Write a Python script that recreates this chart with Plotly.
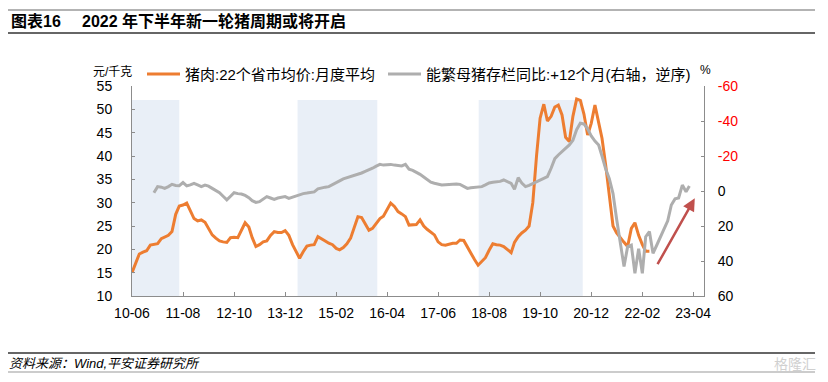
import pandas as pd
import plotly.graph_objects as go

# ---------------- data ----------------
pork_start = "2010-06-01"
pork = [15.0, 17.2, 19.0, 19.4, 19.7, 20.9, 21.1, 21.2, 22.3, 22.6, 23.0, 23.8,
        27.5, 29.3, 29.5, 29.9, 28.4, 26.6, 26.1, 26.3, 25.8, 24.5, 23.1, 22.4,
        21.8, 21.6, 21.5, 22.5, 22.6, 22.5, 24.0, 25.7, 24.8, 22.5, 20.6, 21.0,
        21.6, 21.8, 23.0, 23.8, 23.6, 23.6, 24.0, 23.0, 21.0, 19.5, 18.1, 19.5,
        20.7, 20.9, 21.0, 22.7, 22.3, 21.8, 21.3, 21.0, 20.2, 19.9, 20.4, 21.2,
        22.4, 24.8, 27.0, 26.8, 25.5, 24.1, 24.5, 25.5, 26.6, 27.1, 28.5, 29.9,
        29.2, 28.1, 27.6, 27.0, 25.2, 25.2, 25.3, 26.3, 25.0, 24.3, 23.6, 23.1,
        21.6, 21.0, 20.9, 21.1, 21.3, 21.3, 22.0, 21.9, 20.5, 19.0, 17.8, 16.6,
        17.4, 18.2, 19.8, 21.2, 21.0, 20.9, 20.6, 20.0, 19.3, 21.5, 22.7, 23.5,
        24.1, 25.0, 30.0, 40.0, 48.1, 51.1, 47.5, 48.5, 50.5, 50.9, 48.8, 44.0,
        43.1, 48.5, 52.2, 51.9, 49.0, 44.5, 47.0, 50.9, 47.0, 43.8, 38.0, 31.0,
        25.0, 23.5, 22.4, 21.5, 20.6, 24.5, 25.7, 23.0, 21.0, 19.6, 19.6]

sow_start = "2010-12-01"
sow = [1.0, -2.5, -2.2, -1.5, -2.5, -3.8, -3.2, -3.0, -4.8, -2.9, -3.5, -4.4,
       -3.5, -2.5, -3.4, -2.8, -1.5, -0.5, 1.0, 3.0, 5.1, 3.0, 1.0, 1.5,
       1.7, 2.5, 3.8, 5.5, 6.5, 6.1, 4.5, 3.2, 4.0, 4.8, 4.0, 3.5,
       3.2, 4.2, 3.5, 2.8, 2.0, 1.5, 1.2, 1.0, 0.5, -1.2, -1.8, -2.2,
       -2.5, -3.5, -4.5, -5.8, -6.9, -7.5, -8.2, -9.0, -9.5, -10.3, -11.2, -12.0,
       -13.0, -14.2, -15.2, -14.8, -15.0, -15.2, -14.8, -14.5, -14.3, -15.2, -12.5, -11.8,
       -10.8, -9.5, -8.0, -6.5, -5.0, -4.4, -3.8, -3.4, -3.6, -3.8, -4.0, -4.0,
       -3.8, -2.5, -1.5, -1.8, -2.1, -2.3, -2.5, -3.5, -4.6, -5.0, -5.3, -5.5,
       -6.3, -5.5, -4.4, -1.0, -7.6, -4.5, -2.5, -3.2, -4.2, -5.0, -5.9, -7.0,
       -8.2, -13.0, -18.5, -20.6, -22.5, -24.0, -26.3, -29.0, -35.0, -38.7, -38.3, -35.5,
       -31.5, -28.5, -26.3, -20.0, -12.5, -7.0, 1.5, 16.0, 30.0, 43.2, 31.8, 30.9,
       47.0, 33.0, 47.0, 26.1, 23.2, 35.6, 31.0, 26.1, 22.0, 17.0, 8.0, 4.5,
       4.0, -3.4, 0.4, -2.9]

tick_dates = ["2010-06-01", "2011-08-01", "2012-10-01", "2013-12-01", "2015-02-01", "2016-04-01",
              "2017-06-01", "2018-08-01", "2019-10-01", "2020-12-01", "2022-02-01", "2023-04-01"]
tick_labels = ["10-06", "11-08", "12-10", "13-12", "15-02", "16-04",
               "17-06", "18-08", "19-10", "20-12", "22-02", "23-04"]

shade_start = ["2010-06-01", "2014-03-15", "2018-05-06"]
shade_end = ["2011-07-01", "2016-01-10", "2020-09-21"]
shade_top = 52

left_ticks = [10, 15, 20, 25, 30, 35, 40, 45, 50, 55]
right_ticks = [-60, -40, -20, 0, 20, 40, 60]

pork_name = "猪肉:22个省市均价:月度平均"
sow_name = "能繁母猪存栏同比:+12个月(右轴，逆序)"
title_a = "图表16"
title_b = "2022 年下半年新一轮猪周期或将开启"
source = "资料来源：Wind,平安证券研究所"

PORK_COLOR = "#ED7D31"
SOW_COLOR = "#AEAEAE"

# ---------------- layout geometry ----------------
# The page body adds an 8px margin, so the figure is drawn 8px smaller and
# all positions below are given in window pixels.
OFF = 8
WIN_W, WIN_H = 828, 382
W, H = WIN_W - OFF, WIN_H - OFF
PL, PR, PT, PB = 132, 704, 86, 296   # plot area box, window pixels


def px(x):
    return (x - PL) / (PR - PL)


def py(y):
    return (PB - y) / (PB - PT)


FONT = "Liberation Sans, Arial, Noto Sans CJK SC, sans-serif"

pork_x = pd.date_range(pork_start, periods=len(pork), freq="MS")
sow_x = pd.date_range(sow_start, periods=len(sow), freq="MS")

fig = go.Figure()
fig.add_trace(go.Scatter(x=pork_x, y=pork, mode="lines", name=pork_name,
                         line=dict(color=PORK_COLOR, width=3), yaxis="y"))
fig.add_trace(go.Scatter(x=sow_x, y=sow, mode="lines", name=sow_name,
                         line=dict(color=SOW_COLOR, width=3), yaxis="y2"))

shapes = []
for s, e in zip(shade_start, shade_end):
    shapes.append(dict(type="rect", xref="x", yref="y", x0=s, x1=e, y0=10, y1=shade_top,
                       fillcolor="#E9EFF7", line=dict(width=0), layer="below"))
# title / footer rules
shapes.append(dict(type="line", xref="paper", yref="paper", x0=px(5), x1=px(815),
                   y0=py(10), y1=py(10), line=dict(color="#9A9A9A", width=1.5)))
shapes.append(dict(type="line", xref="paper", yref="paper", x0=px(5), x1=px(815),
                   y0=py(33), y1=py(33), line=dict(color="#333333", width=1.5)))
shapes.append(dict(type="line", xref="paper", yref="paper", x0=px(5), x1=px(815),
                   y0=py(353), y1=py(353), line=dict(color="#333333", width=1.5)))
shapes.append(dict(type="line", xref="paper", yref="paper", x0=px(5), x1=px(815),
                   y0=py(372), y1=py(372), line=dict(color="#9A9A9A", width=1.2)))
# legend samples
shapes.append(dict(type="line", xref="paper", yref="paper", x0=px(147), x1=px(180),
                   y0=py(74), y1=py(74), line=dict(color=PORK_COLOR, width=3)))
shapes.append(dict(type="line", xref="paper", yref="paper", x0=px(388), x1=px(421),
                   y0=py(74), y1=py(74), line=dict(color=SOW_COLOR, width=3)))

right_text = [f'<span style="color:#FF0000">{v}</span>' if v < 0 else str(v) for v in right_ticks]

annotations = [
    dict(text=f"<b>{title_a}</b>", xref="paper", yref="paper", x=px(9), y=py(21),
         xanchor="left", yanchor="middle", showarrow=False, font=dict(size=16, color="#000")),
    dict(text=f"<b>{title_b}</b>", xref="paper", yref="paper", x=px(80), y=py(21),
         xanchor="left", yanchor="middle", showarrow=False, font=dict(size=16, color="#000")),
    dict(text=pork_name, xref="paper", yref="paper", x=px(183), y=py(74),
         xanchor="left", yanchor="middle", showarrow=False, font=dict(size=15, color="#000")),
    dict(text=sow_name, xref="paper", yref="paper", x=px(424), y=py(74),
         xanchor="left", yanchor="middle", showarrow=False, font=dict(size=15, color="#000")),
    dict(text="元/千克", xref="paper", yref="paper", x=px(112), y=py(72),
         xanchor="center", yanchor="middle", showarrow=False, font=dict(size=12, color="#000")),
    dict(text="%", xref="paper", yref="paper", x=px(705), y=py(70),
         xanchor="center", yanchor="middle", showarrow=False, font=dict(size=12, color="#000")),
    dict(text=f"<i>{source}</i>", xref="paper", yref="paper", x=px(7), y=py(363),
         xanchor="left", yanchor="middle", showarrow=False, font=dict(size=13, color="#000")),
    dict(text="格隆汇", xref="paper", yref="paper", x=px(818), y=py(364),
         xanchor="right", yanchor="middle", showarrow=False,
         font=dict(size=14, color="#D0D0D0")),
    # trend arrow
    dict(text="", x="2023-04-15", y=4.2, xref="x", yref="y2",
         ax="2022-06-01", ay=42.7, axref="x", ayref="y2",
         showarrow=True, arrowhead=2, arrowsize=1, arrowwidth=2.5, arrowcolor="#C0504D"),
]

fig.update_layout(
    width=W, height=H,
    margin=dict(l=PL - OFF, r=WIN_W - PR, t=PT - OFF, b=WIN_H - PB, autoexpand=False),
    paper_bgcolor="white", plot_bgcolor="white",
    font=dict(family=FONT, size=14, color="#000"),
    showlegend=False,
    xaxis=dict(type="date", range=["2010-06-01", "2023-07-01"], tickvals=tick_dates,
               ticktext=tick_labels, showgrid=False, zeroline=False, showline=True,
               linecolor="#8C8C8C", linewidth=1, ticks="inside", ticklen=4,
               tickcolor="#8C8C8C", tickfont=dict(size=14), ticklabelstandoff=4,
               automargin=False),
    yaxis=dict(range=[10, 55], tickvals=left_ticks, showgrid=False, zeroline=False,
               showline=True, linecolor="#8C8C8C", linewidth=1, ticks="inside", ticklen=3,
               tickcolor="#8C8C8C", tickfont=dict(size=14), ticklabelstandoff=16,
               automargin=False),
    yaxis2=dict(range=[60, -60], tickvals=right_ticks, ticktext=right_text, overlaying="y",
                side="right", showgrid=False, zeroline=False, showline=True,
                linecolor="#8C8C8C", linewidth=1, ticks="inside", ticklen=3,
                tickcolor="#8C8C8C", tickfont=dict(size=14), ticklabelstandoff=10,
                automargin=False),
    shapes=shapes,
    annotations=annotations,
)

fig.write_html("out.html")
